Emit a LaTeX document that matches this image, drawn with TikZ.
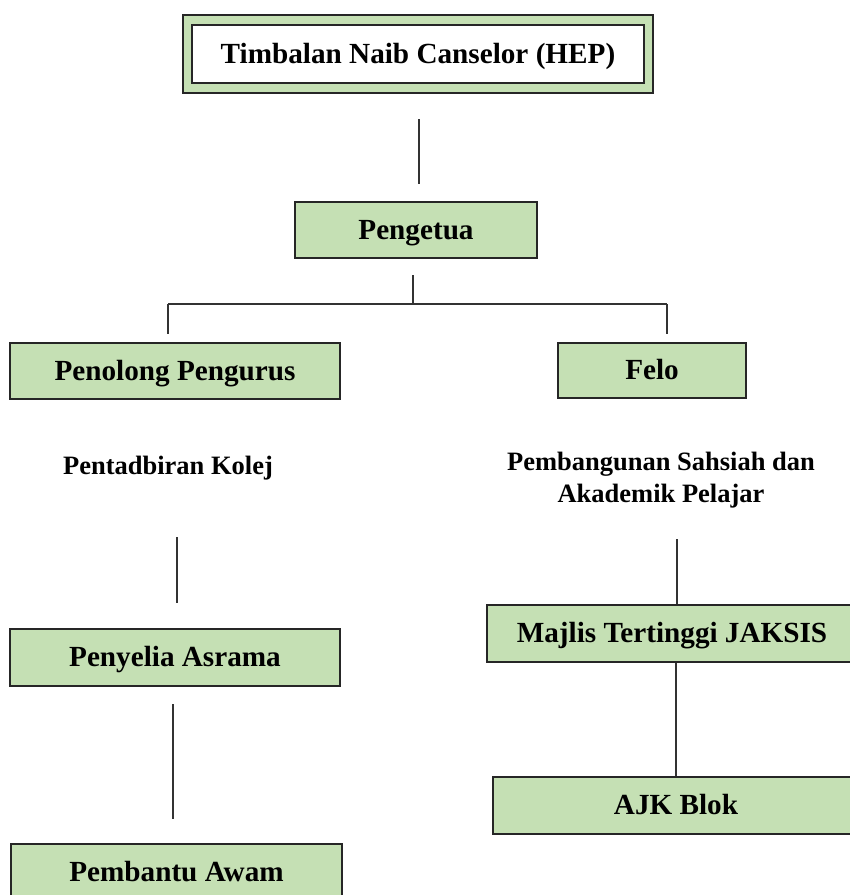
\documentclass[tikz,border=0pt]{standalone}
\usepackage{fontspec}
\setmainfont{Liberation Serif}
\definecolor{boxgreen}{HTML}{C5E0B4}
\definecolor{edge}{HTML}{262626}
\definecolor{conn}{HTML}{333333}
\begin{document}
\begin{tikzpicture}[x=1pt,y=-1pt,
  orgbox/.style={draw=edge, line width=1.3pt, fill=boxgreen, rectangle, inner sep=0pt,
    font=\fontsize{29.2}{32}\selectfont\bfseries, text height=19pt, text depth=1pt, align=center},
  freetext/.style={inner sep=0pt, font=\fontsize{26.5}{32}\selectfont\bfseries, anchor=base, align=center},
  link/.style={draw=conn, line width=1.2pt}]
\useasboundingbox (0,0) rectangle (850,895);
\fill[white] (0,0) rectangle (850,895);
\begin{scope}
\clip (0,0) rectangle (850,895);
% top box (double border)
\node[orgbox, minimum width=470pt, minimum height=78pt, text height=0pt, text depth=0pt] (tncout) at (418,54) {};
\node[orgbox, fill=white, minimum width=452pt, minimum height=58pt] (tnc) at (418,54) {Timbalan Naib Canselor (HEP)};
\node[orgbox, minimum width=242pt, minimum height=56pt] (peng) at (416,230) {Pengetua};
\node[orgbox, minimum width=330pt, minimum height=56pt] (pp) at (175,371) {Penolong Pengurus};
\node[orgbox, minimum width=188pt, minimum height=55pt] (felo) at (652,370.5) {Felo};
\node[orgbox, minimum width=330pt, minimum height=57pt] (pa) at (175,657.5) {Penyelia Asrama};
\node[orgbox, minimum width=331pt, minimum height=57pt] (pba) at (176.5,872.5) {Pembantu Awam};
\node[orgbox, minimum width=370pt, minimum height=57pt] (maj) at (672,633.5) {Majlis Tertinggi JAKSIS};
\node[orgbox, minimum width=366pt, minimum height=57pt] (ajk) at (676,805.5) {AJK Blok};
\end{scope}
% free texts
\node[freetext] (pk) at (168,474) {Pentadbiran Kolej};
\node[freetext] (psa1) at (661,470) {Pembangunan Sahsiah dan};
\node[freetext] (psa2) at (661,502) {Akademik Pelajar};
% connector end points
\coordinate (a1) at (419,119);
\coordinate (a2) at (419,184);
\coordinate (b1) at (413,275);
\coordinate (b2) at (413,304);
\coordinate (hl) at (168,304);
\coordinate (hr) at (667,304);
\coordinate (dl) at (168,334);
\coordinate (dr) at (667,334);
\coordinate (c1) at (177,537);
\coordinate (c2) at (177,603);
\coordinate (d1) at (677,539);
\coordinate (e1) at (173,704);
\coordinate (e2) at (173,819);
% connectors
\draw[link] (a1) -- (a2);
\draw[link] (b1) -- (b2);
\draw[link] (hl) -- (hr);
\draw[link] (hl) -- (dl);
\draw[link] (hr) -- (dr);
\draw[link] (c1) -- (c2);
\draw[link] (d1) -- (d1 |- maj.north);
\draw[link] (e1) -- (e2);
\draw[link] (ajk.north) -- (ajk.north |- maj.south);
\end{tikzpicture}
\end{document}
